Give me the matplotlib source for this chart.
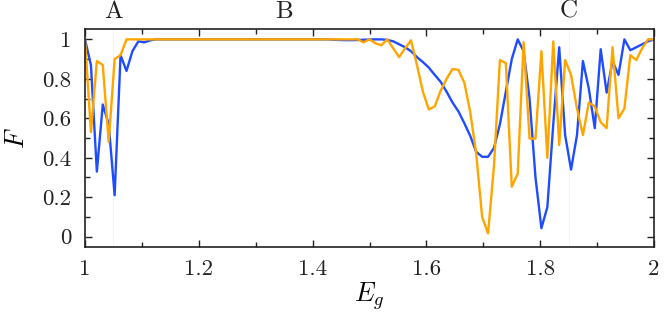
import numpy as np
import matplotlib
matplotlib.use("Agg")
import matplotlib.pyplot as plt

plt.rcParams['font.family'] = 'serif'
plt.rcParams['font.serif'] = ['cmr10', 'DejaVu Serif']
plt.rcParams['mathtext.fontset'] = 'cm'
plt.rcParams['axes.unicode_minus'] = False

# --------------------------------------------------
# Data
# --------------------------------------------------
E_g = np.linspace(1.0, 2.0, 97)

F_blue = [
    1.00, 0.87, 0.33, 0.67, 0.57, 0.21, 0.92, 0.84, 0.94, 0.99,
    0.985, 0.995, 1.00, 1.00, 1.00, 1.00, 1.00, 1.00, 1.00, 1.00,
    1.00, 1.00, 1.00, 1.00, 1.00, 1.00, 1.00, 1.00, 1.00, 1.00,
    1.00, 1.00, 1.00, 1.00, 1.00, 1.00, 1.00, 1.00, 1.00, 1.00,
    1.00, 1.00, 0.998, 0.997, 0.996, 0.996, 0.997, 0.998, 0.999, 1.00,
    1.00, 0.997, 0.99, 0.975, 0.96, 0.94, 0.91, 0.885, 0.857, 0.82,
    0.785, 0.735, 0.68, 0.635, 0.575, 0.51, 0.43, 0.405, 0.405, 0.45,
    0.57, 0.735, 0.90, 1.00, 0.94, 0.70, 0.30, 0.043, 0.15, 0.57,
    0.96, 0.515, 0.34, 0.515, 0.89, 0.75, 0.55, 0.95, 0.73, 0.89,
    0.82, 1.00, 0.945, 0.96, 0.975, 0.99, 1.00,
]

F_orange = [
    1.00, 0.53, 0.89, 0.87, 0.48, 0.90, 0.92, 1.00, 1.00, 1.00,
    1.00, 1.00, 1.00, 1.00, 1.00, 1.00, 1.00, 1.00, 1.00, 1.00,
    1.00, 1.00, 1.00, 1.00, 1.00, 1.00, 1.00, 1.00, 1.00, 1.00,
    1.00, 1.00, 1.00, 1.00, 1.00, 1.00, 1.00, 1.00, 1.00, 1.00,
    1.00, 1.00, 1.00, 1.00, 1.00, 1.00, 1.00, 0.985, 1.00, 0.98,
    0.97, 1.00, 0.955, 0.91, 0.955, 0.995, 0.87, 0.735, 0.645, 0.66,
    0.74, 0.80, 0.85, 0.845, 0.78, 0.63, 0.42, 0.10, 0.017, 0.36,
    0.895, 0.88, 0.253, 0.32, 0.985, 0.497, 0.497, 0.94, 0.40, 0.99,
    0.465, 0.895, 0.82, 0.65, 0.515, 0.68, 0.66, 0.58, 0.55, 0.96,
    0.60, 0.65, 0.92, 0.895, 0.955, 1.00, 1.00,
]

region_labels = ['A', 'B', 'C']
region_pos = [1.05, 1.35, 1.85]
region_lines = [1.05, 1.85]

x_ticks = [1.0, 1.2, 1.4, 1.6, 1.8, 2.0]
x_ticklabels = ['1', '1.2', '1.4', '1.6', '1.8', '2']
y_ticks = [0.0, 0.2, 0.4, 0.6, 0.8, 1.0]
y_ticklabels = ['0', '0.2', '0.4', '0.6', '0.8', '1']

# --------------------------------------------------
# Figure
# --------------------------------------------------
fig = plt.figure(figsize=(6.64, 3.13), dpi=100)
ax = fig.add_axes([0.128, 0.211, 0.857, 0.696])

for xv in region_lines:
    ax.axvline(xv, color='#f2f2f2', lw=0.6, zorder=0)

ax.plot(E_g, F_blue, color='#1f4cff', lw=1.7)
ax.plot(E_g, F_orange, color='#ffa500', lw=1.7)

ax.set_xlim(1.0, 2.0)
ax.set_ylim(-0.052, 1.052)
ax.set_xticks(x_ticks)
ax.set_xticklabels(x_ticklabels)
ax.set_yticks(y_ticks)
ax.set_yticklabels(y_ticklabels)
ax.set_xticks(np.arange(1.1, 2.0, 0.2), minor=True)
ax.set_yticks(np.arange(0.1, 1.0, 0.2), minor=True)

ax.tick_params(which='both', direction='in', top=True, right=True,
               width=1.0, labelsize=16.5, colors='#222222')
ax.tick_params(which='major', length=5)
ax.tick_params(which='minor', length=3.5)
ax.tick_params(axis='x', which='major', pad=9)
ax.tick_params(axis='y', which='major', pad=10)
for s in ax.spines.values():
    s.set_linewidth(1.2)
    s.set_color('#222222')

ax.set_xlabel(r'$E_g$', fontsize=19, labelpad=1)
ax.set_ylabel(r'$F$', fontsize=19, labelpad=9)

for lab, xv in zip(region_labels, region_pos):
    ax.text(xv, 1.03, lab, ha='center', va='bottom', fontsize=18,
            color='#222222', transform=ax.get_xaxis_transform())

fig.savefig('out.png', dpi=100)
